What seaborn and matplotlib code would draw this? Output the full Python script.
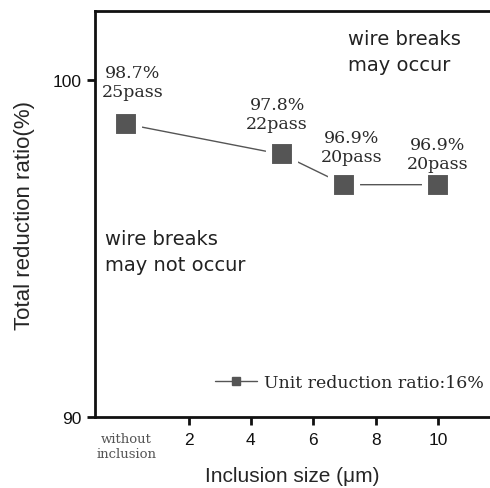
import matplotlib
matplotlib.use('agg')
import matplotlib.pyplot as plt
from matplotlib.lines import Line2D
import pandas as pd
import seaborn as sns

# values
inclusion_size = [0, 5, 7, 10]
total_reduction = [98.7, 97.8, 96.9, 96.9]
pass_count = [25, 22, 20, 20]
tick_values = [0, 2, 4, 6, 8, 10]
tick_labels = ['without\ninclusion', '2', '4', '6', '8', '10']
legend_label = 'Unit reduction ratio:16%'

sns.set_style('ticks')
plt.rcParams['font.family'] = ['Liberation Sans', 'DejaVu Sans']

df = pd.DataFrame({'size': inclusion_size, 'ratio': total_reduction, 'passes': pass_count})

fig = plt.figure(figsize=(4.9, 4.89), dpi=100)
ax = fig.add_axes([0.194, 0.145, 0.806, 0.830])

# white marker edge leaves a small gap between the line and each square
sns.lineplot(data=df, x='size', y='ratio', ax=ax, color='#555555', linewidth=1.0,
             marker='s', markersize=19.4, markeredgecolor='white', markeredgewidth=4.4)

ax.set_xlim(-1, 11.67)
ax.set_ylim(90, 102.05)
ax.set_yticks([90, 100])
ax.set_xticks(tick_values)
ax.set_xticklabels(tick_labels)
ax.tick_params(axis='both', direction='out', length=6, width=2, labelsize=12.5, colors='#111111')
ax.tick_params(axis='x', pad=5)
first = ax.get_xticklabels()[0]
first.set_fontfamily('DejaVu Serif')
first.set_fontsize(9.5)
first.set_color('#555555')
ax.xaxis.get_major_ticks()[0].tick1line.set_visible(False)

for side in ['left', 'bottom', 'top']:
    ax.spines[side].set_linewidth(2)
    ax.spines[side].set_color('#111111')
ax.spines['right'].set_visible(False)

ax.set_xlabel('Inclusion size (\u03bcm)', fontsize=15, labelpad=4)
ax.set_ylabel('Total reduction ratio(%)', fontsize=16, labelpad=13)

offsets = [(6, 24), (-5, 22), (7, 20), (0, 13)]
for (x, y, p), (dx, dy) in zip(df[['size', 'ratio', 'passes']].values, offsets):
    ax.annotate('%.1f%%\n%dpass' % (y, p), (x, y), xytext=(dx, dy), textcoords='offset pixels',
                ha='center', va='bottom', fontsize=12.5, family='DejaVu Serif',
                color='#2a2a2a', linespacing=1.15)

ax.text(0.64, 0.956, 'wire breaks\nmay occur', transform=ax.transAxes, ha='left', va='top',
        fontsize=14, family='DejaVu Sans', color='#222222', linespacing=1.45)
ax.text(0.025, 0.463, 'wire breaks\nmay not occur', transform=ax.transAxes, ha='left', va='top',
        fontsize=14, family='DejaVu Sans', color='#222222', linespacing=1.45)

handle = Line2D([], [], color='#555555', linewidth=1.0, marker='s', markersize=6)
ax.legend(handles=[handle], labels=[legend_label], loc='center left',
          bbox_to_anchor=(0.265, 0.086), frameon=False, handlelength=2.4, handletextpad=0.4,
          prop={'family': 'DejaVu Serif', 'size': 12.5})

plt.savefig('out.png', dpi=100)
